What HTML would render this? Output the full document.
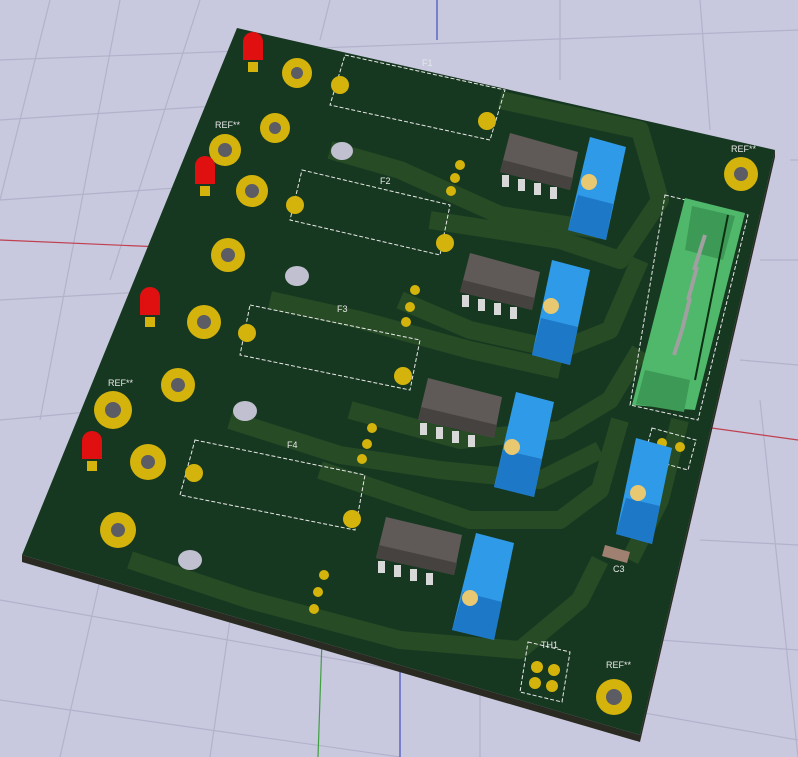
<!DOCTYPE html>
<html><head><style>html,body{margin:0;padding:0;background:#c8c8de;overflow:hidden}svg{display:block}text{font-family:"Liberation Sans",sans-serif}</style></head><body>
<svg width="798" height="757" viewBox="0 0 798 757" xmlns="http://www.w3.org/2000/svg">
<rect width="798" height="757" fill="#c8c8de"/>
<g stroke="#b2b2cc" stroke-width="1.2" fill="none">
<line x1="0" y1="60" x2="798" y2="30"/><line x1="0" y1="120" x2="230" y2="105"/><line x1="0" y1="200" x2="220" y2="185"/>
<line x1="0" y1="300" x2="180" y2="290"/><line x1="0" y1="420" x2="110" y2="410"/><line x1="760" y1="260" x2="798" y2="260"/>
<line x1="740" y1="360" x2="798" y2="365"/><line x1="700" y1="540" x2="798" y2="545"/><line x1="660" y1="640" x2="798" y2="650"/>
<line x1="0" y1="600" x2="798" y2="740"/><line x1="50" y1="0" x2="0" y2="200"/><line x1="120" y1="0" x2="40" y2="420"/>
<line x1="200" y1="0" x2="110" y2="280"/><line x1="330" y1="0" x2="320" y2="40"/><line x1="560" y1="0" x2="560" y2="80"/>
<line x1="700" y1="0" x2="710" y2="130"/><line x1="790" y1="160" x2="798" y2="160"/><line x1="100" y1="580" x2="60" y2="757"/>
<line x1="230" y1="620" x2="210" y2="757"/><line x1="480" y1="680" x2="480" y2="757"/><line x1="760" y1="400" x2="798" y2="757"/>
<line x1="0" y1="700" x2="400" y2="757"/>
</g>
<line x1="0" y1="240" x2="230" y2="250" stroke="#c04050" stroke-width="1.2"/>
<line x1="690" y1="425" x2="798" y2="440" stroke="#c04050" stroke-width="1.2"/>
<line x1="437" y1="0" x2="437" y2="40" stroke="#4050c0" stroke-width="1.2"/>
<line x1="400" y1="670" x2="400" y2="757" stroke="#4050c0" stroke-width="1.2"/>
<line x1="322" y1="640" x2="318" y2="757" stroke="#40a040" stroke-width="1.2"/>
<polygon points="22,555 640,735 640,742 22,562" fill="#2a2a22"/>
<polygon points="640,735 775,150 775,157 640,742" fill="#2a2a22"/>
<polygon points="237,28 775,150 640,735 22,555" fill="#173820"/>
<g stroke="#264b25" stroke-width="18" fill="none" stroke-linejoin="round">
<path d="M500,100 L640,130 L660,200 L620,260 L560,240 L430,220"/>
<path d="M330,150 L400,170 L500,215 L600,230"/>
<path d="M640,260 L610,330 L560,350 L470,330 L400,300"/>
<path d="M270,300 L360,320 L470,350 L560,370"/>
<path d="M640,350 L610,400 L560,430 L460,440 L350,410"/>
<path d="M230,420 L340,455 L440,470 L540,480 L600,450"/>
<path d="M620,420 L600,490 L560,520 L470,520 L320,470"/>
<path d="M130,560 L250,600 L400,640 L520,650 L580,600 L600,560"/>
<path d="M680,420 L660,500 L630,560"/>
</g>
<g stroke="#e8e8e8" stroke-width="1" fill="none" stroke-dasharray="4 2">
<polygon points="345,55 505,90 490,140 330,105"/><polygon points="302,170 450,205 440,255 290,220"/>
<polygon points="250,305 420,340 410,390 240,355"/><polygon points="195,440 365,475 355,530 180,495"/>
<polygon points="528,642 570,652 562,702 520,692"/><polygon points="652,428 696,440 688,470 644,458"/>
<polygon points="665,195 748,215 698,420 630,405"/>
</g>
<g fill="#e8e8e8" font-size="9">
<text x="422" y="66">F1</text><text x="380" y="184">F2</text><text x="337" y="312">F3</text><text x="287" y="448">F4</text>
<text x="215" y="128">REF**</text><text x="108" y="386">REF**</text><text x="731" y="152">REF**</text><text x="606" y="668">REF**</text>
<text x="541" y="648">TH1</text><text x="613" y="572">C3</text>
</g>
<polygon points="685,198 745,213 695,410 632,405" fill="#4fb86a"/>
<polygon points="692,206 735,216 723,260 685,250" fill="#3d9a56"/>
<polygon points="645,370 690,380 684,412 636,404" fill="#3d9a56"/>
<g stroke="#a0a0a0" stroke-width="4"><line x1="705" y1="235" x2="694" y2="270"/><line x1="697" y1="267" x2="688" y2="300"/><line x1="690" y1="298" x2="682" y2="330"/><line x1="682" y1="330" x2="674" y2="355"/></g>
<line x1="728" y1="215" x2="695" y2="380" stroke="#0d3015" stroke-width="2"/>
<g fill="#d4b40c">
<circle cx="297" cy="73" r="15"/><circle cx="275" cy="128" r="15"/><circle cx="225" cy="150" r="16"/><circle cx="252" cy="191" r="16"/>
<circle cx="228" cy="255" r="17"/><circle cx="204" cy="322" r="17"/><circle cx="178" cy="385" r="17"/><circle cx="113" cy="410" r="19"/>
<circle cx="148" cy="462" r="18"/><circle cx="118" cy="530" r="18"/><circle cx="741" cy="174" r="17"/><circle cx="614" cy="697" r="18"/>
</g>
<g fill="#5c5c64">
<circle cx="297" cy="73" r="6"/><circle cx="275" cy="128" r="6"/><circle cx="225" cy="150" r="7"/><circle cx="252" cy="191" r="7"/>
<circle cx="228" cy="255" r="7"/><circle cx="204" cy="322" r="7"/><circle cx="178" cy="385" r="7"/><circle cx="113" cy="410" r="8"/>
<circle cx="148" cy="462" r="7"/><circle cx="118" cy="530" r="7"/><circle cx="741" cy="174" r="7"/><circle cx="614" cy="697" r="8"/>
</g>
<g fill="#c0c0d0"><ellipse cx="342" cy="151" rx="11" ry="9"/><ellipse cx="297" cy="276" rx="12" ry="10"/><ellipse cx="245" cy="411" rx="12" ry="10"/><ellipse cx="190" cy="560" rx="12" ry="10"/></g>
<g fill="#d4b40c">
<circle cx="340" cy="85" r="9"/><circle cx="487" cy="121" r="9"/><circle cx="295" cy="205" r="9"/><circle cx="445" cy="243" r="9"/>
<circle cx="247" cy="333" r="9"/><circle cx="403" cy="376" r="9"/><circle cx="194" cy="473" r="9"/><circle cx="352" cy="519" r="9"/>
<circle cx="460" cy="165" r="5"/><circle cx="455" cy="178" r="5"/><circle cx="451" cy="191" r="5"/>
<circle cx="415" cy="290" r="5"/><circle cx="410" cy="307" r="5"/><circle cx="406" cy="322" r="5"/>
<circle cx="372" cy="428" r="5"/><circle cx="367" cy="444" r="5"/><circle cx="362" cy="459" r="5"/>
<circle cx="324" cy="575" r="5"/><circle cx="318" cy="592" r="5"/><circle cx="314" cy="609" r="5"/>
<circle cx="537" cy="667" r="6"/><circle cx="554" cy="670" r="6"/><circle cx="535" cy="683" r="6"/><circle cx="552" cy="686" r="6"/>
<circle cx="662" cy="443" r="5"/><circle cx="680" cy="447" r="5"/>
</g>
<g fill="#5f5a58">
<polygon points="510,133 578,152 570,190 500,172"/>
<polygon points="470,253 540,272 532,310 460,292"/>
<polygon points="428,378 502,397 494,438 418,420"/>
<polygon points="386,517 462,535 454,575 376,558"/>
</g>
<g fill="#46423f">
<polygon points="503,160 573,178 570,190 500,172"/>
<polygon points="463,280 535,298 532,310 460,292"/>
<polygon points="421,407 497,425 494,438 418,420"/>
<polygon points="379,545 457,563 454,575 376,558"/>
</g>
<g fill="#d8d8d8">
<rect x="502" y="175" width="7" height="12"/><rect x="518" y="179" width="7" height="12"/><rect x="534" y="183" width="7" height="12"/><rect x="550" y="187" width="7" height="12"/>
<rect x="462" y="295" width="7" height="12"/><rect x="478" y="299" width="7" height="12"/><rect x="494" y="303" width="7" height="12"/><rect x="510" y="307" width="7" height="12"/>
<rect x="420" y="423" width="7" height="12"/><rect x="436" y="427" width="7" height="12"/><rect x="452" y="431" width="7" height="12"/><rect x="468" y="435" width="7" height="12"/>
<rect x="378" y="561" width="7" height="12"/><rect x="394" y="565" width="7" height="12"/><rect x="410" y="569" width="7" height="12"/><rect x="426" y="573" width="7" height="12"/>
</g>
<g fill="#2f9be8">
<polygon points="590,137 626,147 606,240 568,230"/>
<polygon points="552,260 590,270 570,365 532,355"/>
<polygon points="516,392 554,402 534,497 494,487"/>
<polygon points="476,533 514,543 494,640 452,630"/>
<polygon points="636,438 672,448 652,544 616,534"/>
</g>
<g fill="#1e78c8">
<polygon points="578,195 613,204 606,240 568,230"/><polygon points="541,318 578,327 570,365 532,355"/>
<polygon points="503,450 542,459 534,497 494,487"/><polygon points="463,592 502,602 494,640 452,630"/><polygon points="626,498 660,506 652,544 616,534"/>
</g>
<g fill="#e8c870"><circle cx="589" cy="182" r="8"/><circle cx="551" cy="306" r="8"/><circle cx="512" cy="447" r="8"/><circle cx="470" cy="598" r="8"/><circle cx="638" cy="493" r="8"/></g>
<polygon points="605,545 630,552 627,563 602,556" fill="#a08070"/>
<g fill="#e01010">
<rect x="243" y="42" width="20" height="18"/><circle cx="253" cy="42" r="10"/>
<rect x="195" y="166" width="20" height="18"/><circle cx="205" cy="166" r="10"/>
<rect x="140" y="297" width="20" height="18"/><circle cx="150" cy="297" r="10"/>
<rect x="82" y="441" width="20" height="18"/><circle cx="92" cy="441" r="10"/>
</g>
<g fill="#d4b40c"><rect x="248" y="62" width="10" height="10"/><rect x="200" y="186" width="10" height="10"/><rect x="145" y="317" width="10" height="10"/><rect x="87" y="461" width="10" height="10"/></g>
</svg>
</body></html>
